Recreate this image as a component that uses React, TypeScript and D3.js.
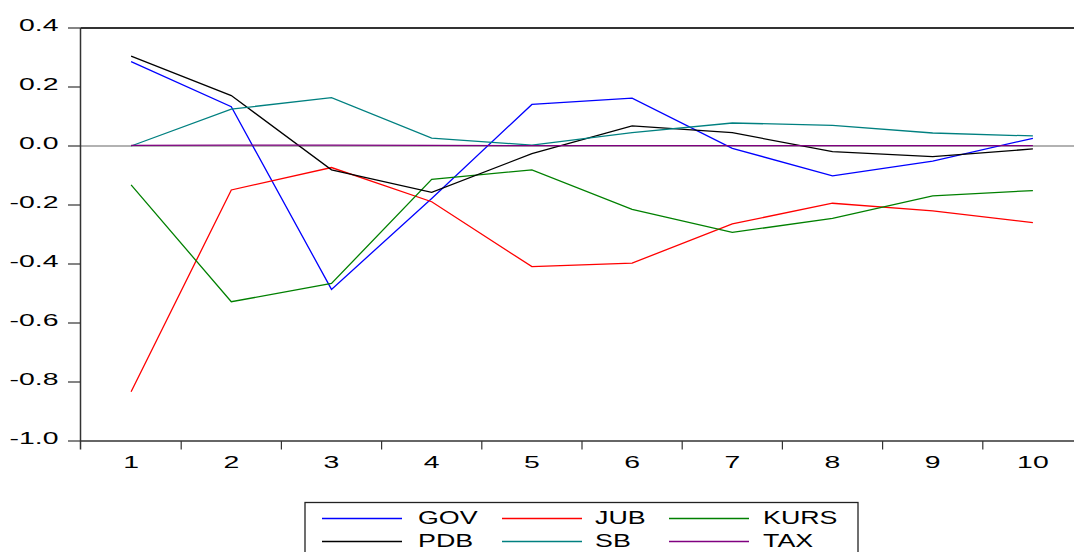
import React from "react";
import * as d3 from "d3";

const periods = [1, 2, 3, 4, 5, 6, 7, 8, 9, 10];
const gov = [0.286, 0.133, -0.486, -0.178, 0.141, 0.162, -0.008, -0.101, -0.051, 0.026];
const jub = [-0.833, -0.149, -0.073, -0.189, -0.409, -0.397, -0.264, -0.194, -0.22, -0.26];
const kurs = [-0.132, -0.528, -0.466, -0.113, -0.081, -0.215, -0.293, -0.245, -0.169, -0.151];
const pdb = [0.305, 0.171, -0.081, -0.157, -0.026, 0.068, 0.045, -0.019, -0.036, -0.01];
const sb = [0.0, 0.125, 0.164, 0.027, 0.003, 0.045, 0.078, 0.07, 0.044, 0.034];
const tax = [0.002, 0.003, 0.003, 0.002, 0.001, 0.001, 0.001, 0.001, 0.001, 0.001];
const yTicks = [0.4, 0.2, 0.0, -0.2, -0.4, -0.6, -0.8, -1.0];

const seriesNames = ["GOV", "JUB", "KURS", "PDB", "SB", "TAX"];
const seriesColors = ["#0000ff", "#ff0000", "#008000", "#000000", "#008080", "#800080"];
const seriesValues = [gov, jub, kurs, pdb, sb, tax];

const W = 1074;
const H = 552;
const left = 80.5;
const top = 28;
const bottom = 441;

export default function App() {
  const x = d3.scaleBand<number>().domain(periods).range([81, 1083]).padding(0);
  const y = d3.scaleLinear().domain([-1.0, 0.4]).range([bottom, top]);
  const cx = (p: number) => (x(p) as number) + x.bandwidth() / 2;
  const line = d3
    .line<number>()
    .x((_, i) => cx(periods[i]))
    .y((d) => y(d));

  const font = "'Liberation Sans', Arial, sans-serif";
  const legendCols = [
    { sx: 322, tx: 418 },
    { sx: 502, tx: 595 },
    { sx: 669, tx: 763 },
  ];
  const legendRows = [518.5, 541.5];

  return (
    <svg
      width={W}
      height={H}
      style={{ position: "absolute", left: 0, top: 0, background: "#fff" }}
    >
      <rect x={0} y={0} width={W} height={H} fill="#fff" />
      {/* zero line */}
      <line x1={left} x2={W} y1={y(0)} y2={y(0)} stroke="#999" strokeWidth={1.5} />
      {/* top border */}
      <line x1={left} x2={W} y1={top} y2={top} stroke="#333" strokeWidth={2} />
      {/* left axis */}
      <line x1={left} x2={left} y1={top} y2={bottom + 8.5} stroke="#333" strokeWidth={1.5} />
      {/* bottom axis */}
      <line x1={left} x2={W} y1={bottom} y2={bottom} stroke="#333" strokeWidth={1.5} />
      {yTicks.map((t) => (
        <g key={t}>
          <line x1={68} x2={left} y1={y(t)} y2={y(t)} stroke="#333" strokeWidth={1.2} />
          <text
            transform={`translate(58.5, ${y(t) + 2.5}) scale(1.72,1)`}
            textAnchor="end"
            fontFamily={font}
            fontSize={16.5}
            fill="#000"
          >
            {t.toFixed(1)}
          </text>
        </g>
      ))}
      {periods.slice(1).map((p) => (
        <line
          key={p}
          x1={x(p) as number}
          x2={x(p) as number}
          y1={bottom}
          y2={bottom + 8.5}
          stroke="#333"
          strokeWidth={1.2}
        />
      ))}
      {periods.map((p) => (
        <text
          key={p}
          transform={`translate(${cx(p)}, 468.3) scale(1.72,1)`}
          textAnchor="middle"
          fontFamily={font}
          fontSize={16.5}
          fill="#000"
        >
          {p}
        </text>
      ))}
      {seriesValues.map((vals, i) => (
        <path
          key={seriesNames[i]}
          d={line(vals) as string}
          fill="none"
          stroke={seriesColors[i]}
          strokeWidth={1.3}
        />
      ))}
      {/* legend */}
      <rect x={305} y={502.5} width={553} height={70} fill="#fff" stroke="#222" strokeWidth={1.3} />
      {seriesNames.map((n, i) => {
        const col = legendCols[i % 3];
        const row = legendRows[Math.floor(i / 3)];
        return (
          <g key={n}>
            <line x1={col.sx} x2={col.sx + 80} y1={row} y2={row} stroke={seriesColors[i]} strokeWidth={1.3} />
            <text
              transform={`translate(${col.tx}, ${row + 5}) scale(1.45,1)`}
              fontFamily={font}
              fontSize={18.5}
              fill="#000"
            >
              {n}
            </text>
          </g>
        );
      })}
    </svg>
  );
}
